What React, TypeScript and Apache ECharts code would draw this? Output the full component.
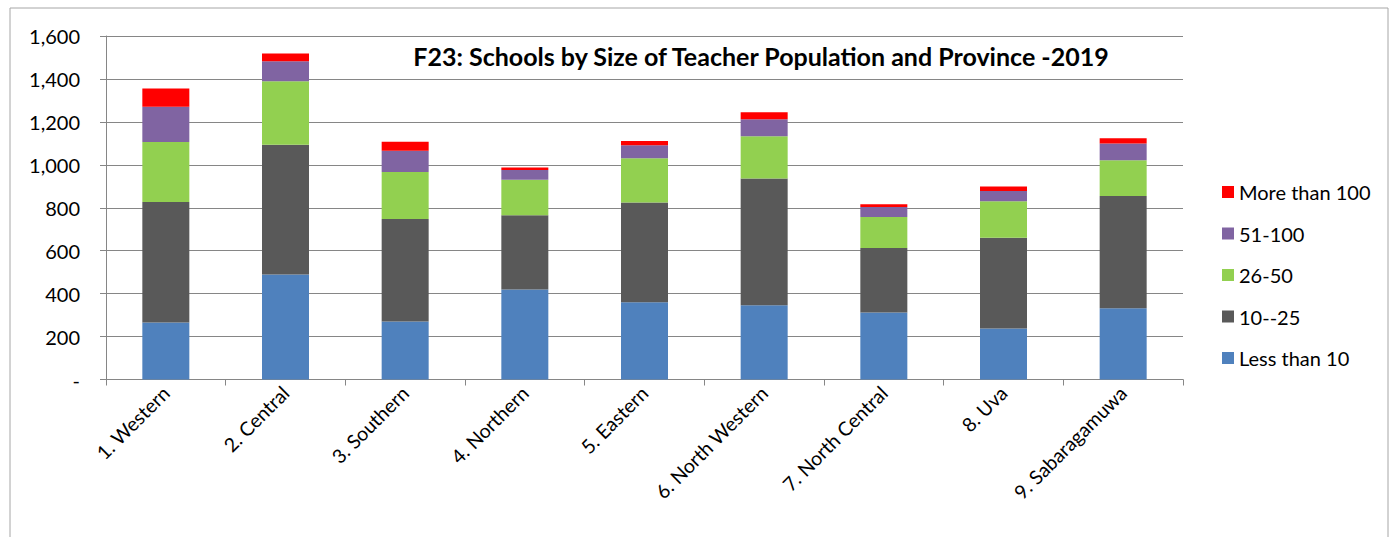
import React, { useEffect, useRef } from "react";
import * as echarts from "echarts";

const provinces = [
  "1. Western",
  "2. Central",
  "3. Southern",
  "4. Northern",
  "5. Eastern",
  "6. North Western",
  "7. North Central",
  "8. Uva",
  "9. Sabaragamuwa",
];

const lessThan10 = [265, 489, 270, 419, 360, 346, 312, 237, 332];
const from10to25 = [562, 605, 478, 346, 464, 590, 301, 423, 523];
const from26to50 = [279, 295, 219, 166, 206, 197, 144, 170, 166];
const from51to100 = [165, 93, 98, 45, 61, 79, 47, 48, 78];
const moreThan100 = [85, 36, 43, 11, 20, 33, 12, 21, 25];

const seriesNames = ["Less than 10", "10--25", "26-50", "51-100", "More than 100"];
const seriesColors = ["#4F81BD", "#595959", "#92D050", "#8064A2", "#FF0000"];
const seriesData = [lessThan10, from10to25, from26to50, from51to100, moreThan100];

const yTicks = { min: 0, max: 1600, interval: 200 };

const FONT = "Lato, 'Open Sans', sans-serif";

export default function App() {
  const ref = useRef<HTMLDivElement>(null);

  useEffect(() => {
    if (!ref.current) return;
    const chart = echarts.init(ref.current, null, { renderer: "svg" });
    chart.setOption({
      animation: false,
      backgroundColor: "#ffffff",
      textStyle: { fontFamily: FONT, color: "#000" },
      title: {
        text: "F23: Schools by Size of Teacher Population and Province -2019",
        left: 756,
        textAlign: "center",
        top: 38,
        textStyle: { fontFamily: FONT, fontSize: 25, fontWeight: "bold", color: "#000" },
      },
      graphic: [
        {
          type: "rect",
          shape: { x: 10, y: 8, width: 1378, height: 600 },
          style: { fill: "none", stroke: "#a6a6a6", lineWidth: 1 },
          silent: true,
        },
      ],
      legend: {
        orient: "vertical",
        left: 1217,
        top: 177,
        itemWidth: 12,
        itemHeight: 12,
        itemGap: 21.5,
        icon: "rect",
        data: [...seriesNames].reverse(),
        textStyle: { fontFamily: FONT, fontSize: 20, color: "#000" },
      },
      grid: { left: 106, right: 215, top: 36, bottom: 157.5, containLabel: false },
      xAxis: {
        type: "category",
        data: provinces,
        axisLine: { lineStyle: { color: "#868686", width: 1 } },
        axisTick: { show: true, length: 6, lineStyle: { color: "#868686" } },
        axisLabel: {
          rotate: 45,
          interval: 0,
          margin: 10,
          fontFamily: FONT,
          fontSize: 19.5,
          color: "#000",
        },
      },
      yAxis: {
        type: "value",
        min: yTicks.min,
        max: yTicks.max,
        interval: yTicks.interval,
        axisLine: { show: true, lineStyle: { color: "#868686", width: 1 } },
        axisTick: { show: true, length: 6, lineStyle: { color: "#868686" } },
        splitLine: { show: true, lineStyle: { color: "#868686", width: 1 } },
        axisLabel: {
          margin: 26,
          fontFamily: FONT,
          fontSize: 20,
          color: "#000",
          formatter: (v: number) => (v === 0 ? "-" : v.toLocaleString("en-US")),
        },
      },
      series: seriesNames.map((name, i) => ({
        name,
        type: "bar",
        stack: "total",
        barWidth: 47,
        itemStyle: { color: seriesColors[i] },
        data: seriesData[i],
      })),
    });
    return () => chart.dispose();
  }, []);

  return (
    <div
      ref={ref}
      style={{ position: "absolute", left: 0, top: 0, width: 1398, height: 537 }}
    />
  );
}
